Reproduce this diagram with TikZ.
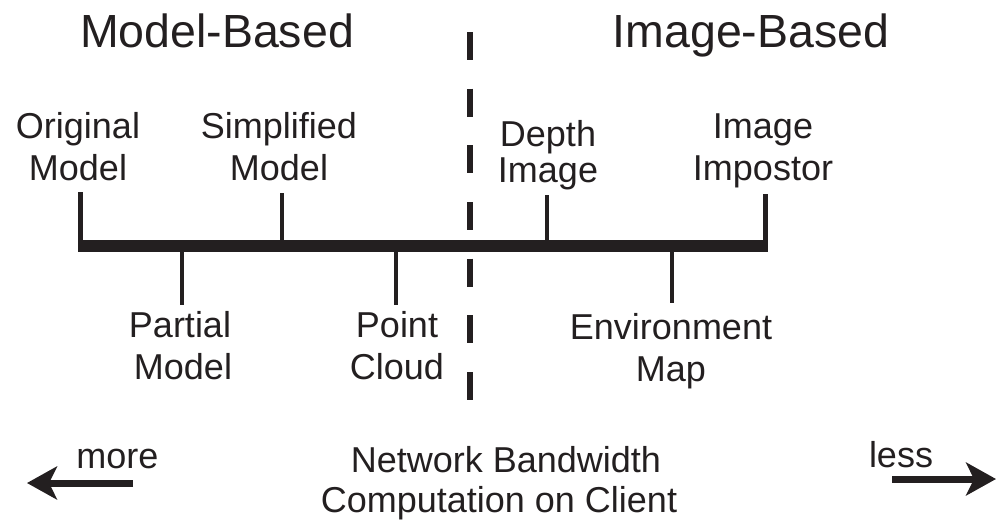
\documentclass[tikz,border=0pt]{standalone}
\usepackage{fontspec}
\setmainfont{Liberation Sans}
\usetikzlibrary{arrows.meta}
\definecolor{ink}{HTML}{231F20}
\begin{document}
\begin{tikzpicture}[x=1pt,y=-1pt,
  every node/.style={inner sep=0pt,outer sep=0pt,text=ink},
  title/.style={anchor=base,font=\fontsize{46.5}{46}\selectfont},
  lbl/.style={anchor=base,font=\fontsize{36}{36}\selectfont},
  axis/.style={draw=ink,line width=12pt},
  tick/.style={draw=ink,line width=4.5pt},
  divider/.style={draw=ink,line width=6pt,dash pattern=on 28pt off 28.67pt},
  bigarrow/.style={draw=ink,line width=7pt,-{Stealth[length=30pt,width=33pt,inset=8pt]}}]
\useasboundingbox (0,0) rectangle (998,523);
% titles
\node[title] (mb) at (217,47) {Model-Based};
\node[title] (ib) at (751,47) {Image-Based};
% divider
\coordinate (dvt) at (470,32);
\coordinate (dvb) at (470,400);
\draw[divider] (dvt) -- (dvb);
% main axis
\coordinate (axl) at (78,246);
\coordinate (axr) at (768,246);
\draw[axis] (axl) -- (axr);
% upper labels
\node[lbl] (orig1) at (78,138) {Original};
\node[lbl] (orig2) at (78,180) {Model};
\node[lbl] (simp1) at (279,138) {Simplified};
\node[lbl] (simp2) at (279,180) {Model};
\node[lbl] (dep1) at (548,146) {Depth};
\node[lbl] (dep2) at (548,182) {Image};
\node[lbl] (imp1) at (763,138) {Image};
\node[lbl] (imp2) at (763,180) {Impostor};
% lower labels
\node[lbl] (part1) at (180,337) {Partial};
\node[lbl] (part2) at (183,379) {Model};
\node[lbl] (pt1) at (397,337) {Point};
\node[lbl] (pt2) at (397,379) {Cloud};
\node[lbl] (env1) at (671,339) {Environment};
\node[lbl] (env2) at (671,381) {Map};
% ticks
\coordinate (t1a) at (80.5,192); \coordinate (t1b) at (80.5,246);
\coordinate (t2a) at (282,193); \coordinate (t2b) at (282,246);
\coordinate (t3a) at (547,195); \coordinate (t3b) at (547,246);
\coordinate (t4a) at (765.5,194); \coordinate (t4b) at (765.5,246);
\coordinate (t5a) at (182,246); \coordinate (t5b) at (182,305);
\coordinate (t6a) at (396,246); \coordinate (t6b) at (396,305);
\coordinate (t7a) at (672,246); \coordinate (t7b) at (672,303);
\foreach \a/\b in {t1a/t1b,t2a/t2b,t3a/t3b,t4a/t4b,t5a/t5b,t6a/t6b,t7a/t7b}
  \draw[tick] (\a) -- (\b);
% bottom
\node[lbl] (more) at (117.5,468) {more};
\node[lbl] (less) at (901,467) {less};
\node[lbl] (nb) at (506,472) {Network Bandwidth};
\node[lbl] (cc) at (499,512) {Computation on Client};
\coordinate (la) at (133,483); \coordinate (lt) at (27,483);
\coordinate (ra) at (892,479); \coordinate (rt) at (996,479);
\draw[bigarrow] (la) -- (lt);
\draw[bigarrow] (ra) -- (rt);
\end{tikzpicture}
\end{document}
